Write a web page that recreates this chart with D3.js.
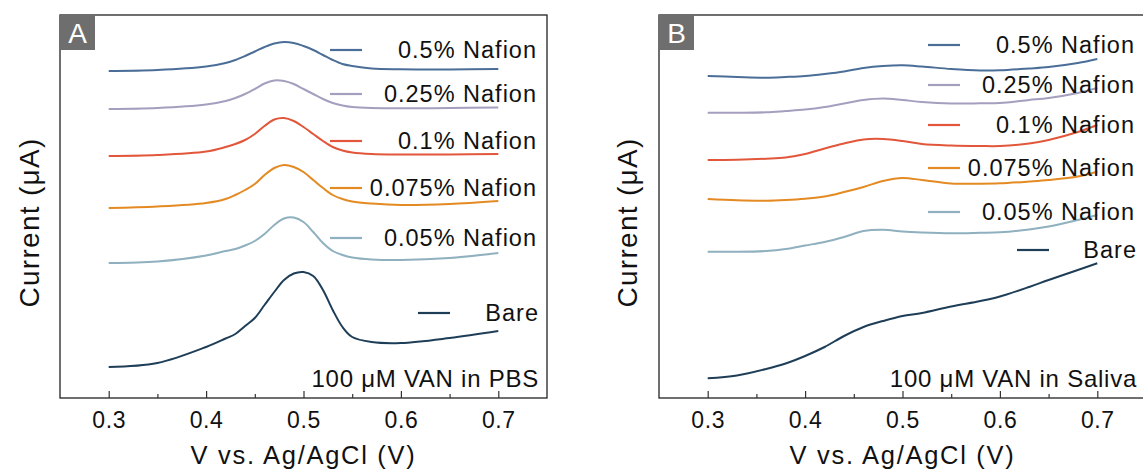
<!DOCTYPE html>
<html>
<head>
<meta charset="utf-8">
<script src="https://cdn.jsdelivr.net/npm/d3@7"></script>
<style>
  body { margin: 0; background: #fff; }
  svg text { font-family: "Liberation Sans", Arial, sans-serif; fill: #111; }
</style>
</head>
<body>
<script>
// legend labels, top to bottom
var seriesNames = ["0.5% Nafion", "0.25% Nafion", "0.1% Nafion", "0.075% Nafion", "0.05% Nafion", "Bare"];
var seriesColors = ["#4b6e98", "#a59ebf", "#e2573b", "#e48a23", "#8fb0be", "#1e3e58"];

var xTicks = [0.3, 0.4, 0.5, 0.6, 0.7];
var xMinorTicks = [0.35, 0.45, 0.55, 0.65];

// panel A: 100 uM VAN in PBS (current in arbitrary offset units)
var voltA = [0.30, 0.35, 0.40, 0.42, 0.43, 0.44, 0.45, 0.46, 0.47, 0.48, 0.49, 0.50, 0.51, 0.52, 0.53, 0.54, 0.55, 0.57, 0.60, 0.65, 0.70];
var pbs05 = [327, 328, 331.5, 335, 338, 342, 346.5, 351, 354.5, 356, 355, 352, 348, 343, 338, 334, 332, 329.5, 328.7, 328.5, 329];
var pbs025 = [289, 290, 293.5, 297, 300, 304, 309, 314.5, 317.5, 317, 314, 309, 304, 299, 295, 292.5, 291, 290, 289.7, 290, 290.5];
var pbs01 = [242, 243, 246.5, 251, 254, 258, 264, 272, 278.5, 280, 277, 271, 264, 257, 251, 247.5, 245.5, 244, 243.5, 243.5, 244];
var pbs0075 = [190, 191.5, 195, 199, 203, 208, 214, 223, 230, 233, 231, 226, 218, 210, 203, 199, 196.5, 194.5, 193, 194, 197];
var pbs005 = [135, 136.5, 142.5, 147, 149, 152.5, 157, 164, 173, 179.5, 180.5, 176, 166, 155, 147, 143, 140.5, 138.5, 138, 140, 145];
var pbsBare = [31, 35, 51, 59.5, 64, 72, 80, 93, 106, 118, 124.5, 126, 122, 108, 88, 71, 61, 56, 55, 60, 67];

// panel B: 100 uM VAN in Saliva
var voltB = [0.30, 0.33, 0.36, 0.38, 0.40, 0.42, 0.44, 0.46, 0.48, 0.50, 0.52, 0.55, 0.58, 0.60, 0.63, 0.65, 0.68, 0.70];
var sal05 = [322, 321, 320.3, 321, 322, 324, 326.5, 330, 332, 332.7, 331.5, 329, 327.5, 327.7, 329.5, 331, 335, 339];
var sal025 = [285.3, 285.3, 285.7, 287, 288.5, 291, 294.5, 298, 299.5, 298, 296, 294.5, 294.7, 295, 298, 300, 305, 310];
var sal01 = [238, 238.3, 239.3, 240.5, 244, 249.5, 254.5, 258.5, 259, 257, 254, 252.5, 252, 252, 254.5, 258, 266, 273];
var sal0075 = [199, 197.7, 197.3, 198, 199.3, 201.5, 206, 211, 217, 220, 218, 214.5, 214.3, 214.7, 216.5, 218, 221.5, 226.3];
var sal005 = [146.3, 146.2, 147, 149, 152.5, 156, 161, 167, 168.3, 166.5, 165.5, 164.7, 165.2, 165.7, 168.5, 171.5, 178, 183];
var salBare = [19.7, 22.5, 29, 34.5, 42, 51, 62, 71, 77, 82, 85, 91.5, 97, 101.5, 111, 118, 128, 134.7];

var width = 487, height = 383, marginTop = 15;

var svg = d3.select("body").append("svg")
    .attr("width", 1143)
    .attr("height", 470);

function drawPanel(opt) {
    var g = svg.append("g")
        .attr("transform", "translate(" + opt.left + "," + marginTop + ")");

    var x = d3.scaleLinear().domain([0.25, 0.75]).range([0, width]);
    var y = d3.scaleLinear().domain([0, 383]).range([height, 0]);

    var line = d3.line()
        .x(function (d) { return x(d[0]); })
        .y(function (d) { return y(d[1]); })
        .curve(d3.curveCatmullRom.alpha(0.5));

    opt.series.forEach(function (vals, i) {
        var pts = opt.volt.map(function (v, j) { return [v, vals[j]]; });
        g.append("path")
            .datum(pts)
            .attr("fill", "none")
            .attr("stroke", seriesColors[i])
            .attr("stroke-width", 2)
            .attr("d", line);
    });

    // frame
    g.append("rect")
        .attr("width", width).attr("height", height)
        .attr("fill", "none")
        .attr("stroke", "#222")
        .attr("stroke-width", 1.3);

    // ticks pointing inward
    var ax = g.append("g")
        .attr("transform", "translate(0," + height + ")")
        .call(d3.axisBottom(x).tickValues(xTicks).tickSize(-7).tickPadding(14)
            .tickFormat(d3.format(".1f")));
    ax.select(".domain").remove();
    ax.selectAll("text")
        .style("font-size", "23px")
        .style("letter-spacing", "0.6px")
        .attr("fill", "#111");
    ax.selectAll("line").attr("stroke", "#333").attr("stroke-width", 1.2);

    var axm = g.append("g")
        .attr("transform", "translate(0," + height + ")")
        .call(d3.axisBottom(x).tickValues(xMinorTicks).tickSize(-4).tickFormat(""));
    axm.select(".domain").remove();
    axm.selectAll("line").attr("stroke", "#333").attr("stroke-width", 1.2);

    g.append("text")
        .attr("x", width / 2)
        .attr("y", height + 66)
        .attr("text-anchor", "middle")
        .style("font-size", "25.5px")
        .style("letter-spacing", "1.7px")
        .text("V vs. Ag/AgCl (V)");

    g.append("text")
        .attr("transform", "rotate(-90)")
        .attr("x", -(height / 2) - 16)
        .attr("y", opt.yLabelX - opt.left)
        .attr("dy", "0.35em")
        .attr("text-anchor", "middle")
        .style("font-size", "28px")
        .style("letter-spacing", "1.3px")
        .text("Current (\u03bcA)");

    // panel letter
    g.append("rect")
        .attr("width", 35).attr("height", 35)
        .attr("fill", "#6e6e6e");
    g.append("text")
        .attr("x", 17.5).attr("y", 28)
        .attr("text-anchor", "middle")
        .style("font-size", "28px")
        .style("fill", "#fff")
        .text(opt.letter);

    // legend
    opt.legendY.forEach(function (ly, i) {
        var lx = i < 5 ? opt.legendX : opt.bareX;
        g.append("line")
            .attr("x1", lx - opt.left).attr("x2", lx - opt.left + 32)
            .attr("y1", ly - marginTop).attr("y2", ly - marginTop)
            .attr("stroke", seriesColors[i])
            .attr("stroke-width", 2.2);
        g.append("text")
            .attr("x", (i < 5 ? opt.textEnd : opt.textEnd + 2) - opt.left)
            .attr("y", ly - marginTop)
            .attr("dy", "0.36em")
            .attr("text-anchor", "end")
            .style("font-size", "23.5px")
            .style("letter-spacing", "1px")
            .text(seriesNames[i]);
    });

    g.append("text")
        .attr("x", opt.textEnd + 2 - opt.left)
        .attr("y", opt.noteY - marginTop)
        .attr("text-anchor", "end")
        .style("font-size", "24px")
        .style("letter-spacing", "0.75px")
        .text(opt.note);
}

drawPanel({
    left: 60, letter: "A", yLabelX: 29,
    volt: voltA, series: [pbs05, pbs025, pbs01, pbs0075, pbs005, pbsBare],
    legendX: 330, bareX: 418, textEnd: 537,
    legendY: [50, 94, 141, 188, 238, 313],
    noteY: 387, note: "100 \u03bcM VAN in PBS"
});

drawPanel({
    left: 659, letter: "B", yLabelX: 627,
    volt: voltB, series: [sal05, sal025, sal01, sal0075, sal005, salBare],
    legendX: 928, bareX: 1017, textEnd: 1135,
    legendY: [45, 85, 125, 168, 212, 250],
    noteY: 387, note: "100 \u03bcM VAN in Saliva"
});
</script>
</body>
</html>
